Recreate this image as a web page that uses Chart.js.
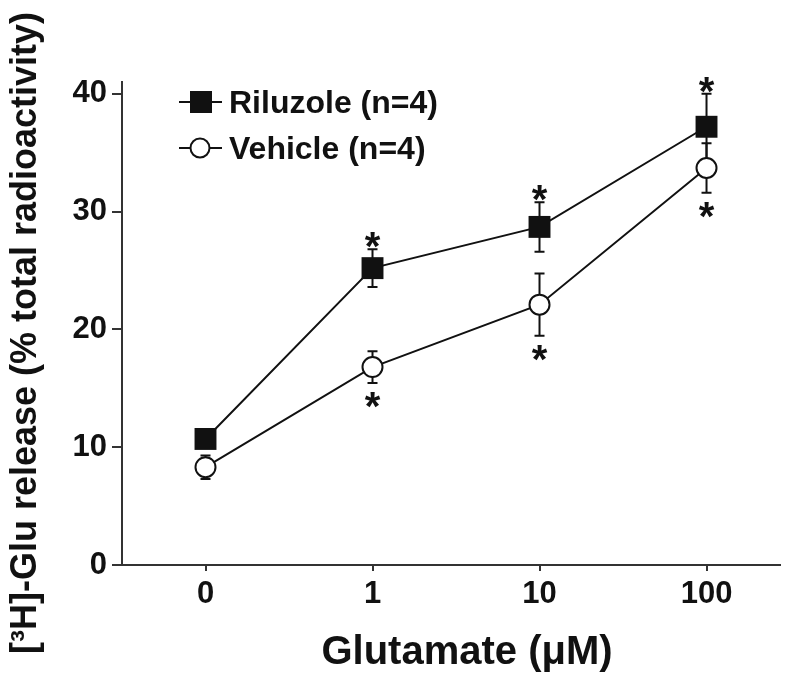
<!DOCTYPE html>
<html>
<head>
<meta charset="utf-8">
<script src="https://cdn.jsdelivr.net/npm/chart.js@4.4.1/dist/chart.umd.min.js"></script>
<style>
  body { margin: 0; background: #fff; }
  canvas { display: block; }
</style>
</head>
<body>
<canvas id="glu_chart" width="800" height="689"></canvas>
<script>
// glutamate doses (categorical positions 0..3)
const doseLabels = ['0', '1', '10', '100'];
const dosePos = [0, 1, 2, 3];
const yTicks = [0, 10, 20, 30, 40];

const riluzole = [10.7, 25.2, 28.7, 37.2];
const riluzoleErr = [0.4, 1.6, 2.1, 2.8];
const riluzoleStar = [false, true, true, true];

const vehicle = [8.3, 16.8, 22.1, 33.7];
const vehicleErr = [1.0, 1.35, 2.65, 2.1];
const vehicleStar = [false, true, true, true];

const FONT = '"Liberation Sans", Arial, sans-serif';
const STAR = 40;

function toPoints(vals){
    return vals.map((v, i) => ({x: dosePos[i], y: v}));
}

// error bars behind the markers
const errorBars = {
    id: 'errorBars',
    beforeDatasetsDraw(chart){
        const ctx = chart.ctx;
        const xs = chart.scales.x, ys = chart.scales.y;
        const sets = [[riluzole, riluzoleErr], [vehicle, vehicleErr]];
        ctx.save();
        ctx.strokeStyle = '#111';
        ctx.lineWidth = 2;
        sets.forEach(s => {
            s[0].forEach((v, i) => {
                const x = xs.getPixelForValue(dosePos[i]);
                const top = ys.getPixelForValue(v + s[1][i]);
                const bot = ys.getPixelForValue(v - s[1][i]);
                ctx.beginPath();
                ctx.moveTo(x, top); ctx.lineTo(x, bot);
                ctx.moveTo(x - 5, top); ctx.lineTo(x + 5, top);
                ctx.moveTo(x - 5, bot); ctx.lineTo(x + 5, bot);
                ctx.stroke();
            });
        });
        ctx.restore();
    }
};

// asterisks, legend and axis titles
const extras = {
    id: 'extras',
    afterDraw(chart){
        const ctx = chart.ctx;
        const xs = chart.scales.x, ys = chart.scales.y;
        ctx.save();
        ctx.fillStyle = '#111';
        ctx.textAlign = 'center';
        ctx.textBaseline = 'alphabetic';
        ctx.font = 'bold ' + STAR + 'px ' + FONT;
        // asterisk glyph centre sits ~0.57em above baseline
        riluzole.forEach((v, i) => {
            if(!riluzoleStar[i]) return;
            const x = xs.getPixelForValue(dosePos[i]);
            const yc = ys.getPixelForValue(v + riluzoleErr[i]) - 12;
            ctx.fillText('*', x, yc + 0.57 * STAR);
        });
        vehicle.forEach((v, i) => {
            if(!vehicleStar[i]) return;
            const x = xs.getPixelForValue(dosePos[i]);
            const yc = ys.getPixelForValue(v - vehicleErr[i]) + 14;
            ctx.fillText('*', x, yc + 0.57 * STAR);
        });

        // legend
        ctx.strokeStyle = '#111';
        ctx.lineWidth = 2;
        ctx.beginPath();
        ctx.moveTo(179, 102); ctx.lineTo(222, 102);
        ctx.moveTo(179, 148); ctx.lineTo(222, 148);
        ctx.stroke();
        ctx.fillRect(190, 91, 22, 22);
        ctx.beginPath();
        ctx.arc(200, 148, 9.5, 0, Math.PI * 2);
        ctx.fillStyle = '#fff';
        ctx.fill();
        ctx.stroke();
        ctx.fillStyle = '#111';
        ctx.textAlign = 'left';
        ctx.font = 'bold 32px ' + FONT;
        ctx.fillText('Riluzole (n=4)', 229, 113);
        ctx.fillText('Vehicle (n=4)', 229, 159);

        // x title
        ctx.textAlign = 'center';
        ctx.font = 'bold 40px ' + FONT;
        ctx.fillText('Glutamate (\u03bcM)', 467, 664);

        // y title
        ctx.translate(36, 333);
        ctx.rotate(-Math.PI / 2);
        ctx.font = 'bold 36px ' + FONT;
        ctx.fillText('[\u00b3H]-Glu release (% total radioactivity)', 0, 0);
        ctx.restore();
    }
};

let chart = new Chart(document.getElementById('glu_chart'), {
    type: 'line',
    data: {
        datasets: [{
            label: 'Riluzole (n=4)',
            data: toPoints(riluzole),
            borderColor: '#111',
            borderWidth: 2,
            backgroundColor: '#111',
            pointStyle: 'rect',
            pointRadius: 15.5,
            pointBorderWidth: 0,
            pointBackgroundColor: '#111',
            tension: 0
        }, {
            label: 'Vehicle (n=4)',
            data: toPoints(vehicle),
            borderColor: '#111',
            borderWidth: 2,
            pointStyle: 'circle',
            pointRadius: 10,
            pointBorderWidth: 2,
            pointBorderColor: '#111',
            pointBackgroundColor: '#fff',
            tension: 0
        }]
    },
    options: {
        responsive: false,
        animation: false,
        layout: { padding: { top: 82, right: 20, left: 0, bottom: 0 } },
        plugins: { legend: { display: false }, tooltip: { enabled: false } },
        scales: {
            x: {
                type: 'linear',
                min: -0.5,
                max: 3.44,
                afterBuildTicks: s => { s.ticks = dosePos.map(v => ({value: v})); },
                afterFit: s => { s.height = 689 - 565; },
                ticks: {
                    callback: v => doseLabels[v] !== undefined ? doseLabels[v] : '',
                    color: '#111',
                    font: { family: FONT, size: 31, weight: 'bold' },
                    padding: 5,
                    maxRotation: 0
                },
                grid: { drawOnChartArea: false, tickLength: 6, color: '#333', lineWidth: 2 },
                border: { color: '#333', width: 2 }
            },
            y: {
                min: 0,
                max: 41,
                afterBuildTicks: s => { s.ticks = yTicks.map(v => ({value: v})); },
                afterFit: s => { s.width = 122; },
                ticks: {
                    color: '#111',
                    font: { family: FONT, size: 31, weight: 'bold' },
                    padding: 5
                },
                grid: { drawOnChartArea: false, tickLength: 10, color: '#333', lineWidth: 2 },
                border: { color: '#333', width: 2 }
            }
        }
    },
    plugins: [errorBars, extras]
});
</script>
</body>
</html>
